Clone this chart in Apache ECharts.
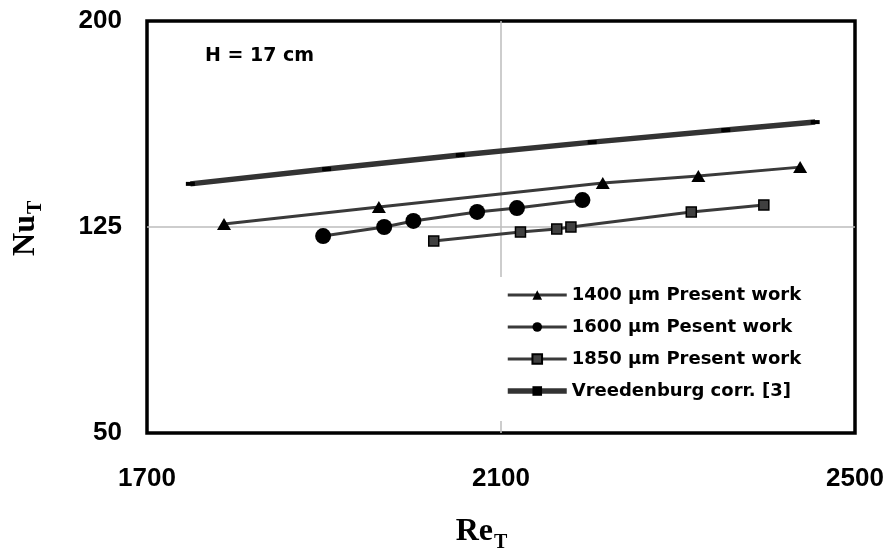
<!DOCTYPE html>
<html><head><meta charset="utf-8">
<script src="https://cdn.jsdelivr.net/npm/echarts@6/dist/echarts.min.js"></script>
<style>html,body{margin:0;padding:0;background:#fff}#c{width:890px;height:554px}</style>
</head><body><div id="c"></div>
<script>
// Data
const seriesNames = ['1400 µm Present work', '1600 µm Pesent work', '1850 µm Present work', 'Vreedenburg corr. [3]'];
const re1400 = [1787, 1962, 2215, 2323, 2438];
const nu1400 = [126.1, 132.3, 141.0, 143.6, 146.8];
const re1600 = [1899, 1968, 2001, 2073, 2118, 2192];
const nu1600 = [121.7, 125.0, 127.2, 130.5, 131.9, 134.8];
const re1850 = [2024, 2122, 2163, 2179, 2315, 2397];
const nu1850 = [119.9, 123.2, 124.3, 125.0, 130.5, 133.0];
const reVree = [1749, 1903, 2054, 2203, 2354, 2455];
const nuVree = [140.7, 146.1, 151.2, 155.9, 160.3, 163.2];
const xTicks = {min: 1700, max: 2500, interval: 400};
const yTicks = {min: 50, max: 200, interval: 75};
const annotation = 'H = 17 cm';

const pairs = (xs, ys) => xs.map((x, i) => [x, ys[i]]);
const chart = echarts.init(document.getElementById('c'), null, {renderer: 'canvas'});
const tickFont = {fontFamily: '"Liberation Sans", Arial, sans-serif', fontWeight: 'bold', fontSize: 26, color: '#000', formatter: v => String(v)};
const lineCol = '#3a3a3a';
const split = {show: true, showMinLine: false, showMaxLine: false, lineStyle: {color: '#bdbdbd', width: 1.5}};
chart.setOption({
  animation: false,
  backgroundColor: '#fff',
  grid: {left: 147, top: 21, right: 35, bottom: 121, show: true, borderColor: '#000', borderWidth: 3.5, backgroundColor: 'transparent'},
  xAxis: {
    type: 'value', min: xTicks.min, max: xTicks.max, interval: xTicks.interval,
    axisLine: {show: false}, axisTick: {show: false},
    axisLabel: Object.assign({margin: 33}, tickFont),
    splitLine: split
  },
  yAxis: {
    type: 'value', min: yTicks.min, max: yTicks.max, interval: yTicks.interval,
    axisLine: {show: false}, axisTick: {show: false},
    axisLabel: Object.assign({margin: 25}, tickFont),
    splitLine: split
  },
  legend: {
    orient: 'vertical', left: 493, top: 277,
    padding: [9, 10, 21, 12], backgroundColor: '#fff',
    itemWidth: 59, itemHeight: 12, itemGap: 14,
    lineStyle: {width: 'inherit'},
    textStyle: {fontFamily: '"DejaVu Sans", sans-serif', fontWeight: 'bold', fontSize: 18, color: '#000'},
    data: seriesNames
  },
  series: [
    {name: seriesNames[0], type: 'line', data: pairs(re1400, nu1400), symbol: 'triangle', symbolSize: [14, 12],
      itemStyle: {color: '#000'}, lineStyle: {color: lineCol, width: 3}, z: 3},
    {name: seriesNames[1], type: 'line', data: pairs(re1600, nu1600), symbol: 'circle', symbolSize: 16,
      itemStyle: {color: '#000'}, lineStyle: {color: lineCol, width: 3}, z: 3},
    {name: seriesNames[2], type: 'line', data: pairs(re1850, nu1850), symbol: 'rect', symbolSize: 10,
      itemStyle: {color: '#404040', borderColor: '#000', borderWidth: 1.5}, lineStyle: {color: lineCol, width: 3}, z: 3},
    {name: seriesNames[3], type: 'line', data: pairs(reVree, nuVree), symbol: 'rect', symbolSize: [9, 4],
      itemStyle: {color: '#000'}, lineStyle: {color: '#333', width: 5.5}, z: 2}
  ],
  graphic: [
    {type: 'text', x: 205, y: 56, style: {text: annotation, font: 'bold 19px "DejaVu Sans", sans-serif', fill: '#000', align: 'left', verticalAlign: 'middle'}},
    {type: 'text', x: 493, y: 532, style: {text: 'Re', font: 'bold 32px "Liberation Serif", serif', fill: '#000', align: 'right', verticalAlign: 'middle'}},
    {type: 'text', x: 494, y: 543, style: {text: 'T', font: 'bold 20px "Liberation Serif", serif', fill: '#000', align: 'left', verticalAlign: 'middle'}},
    {type: 'group', x: 26, y: 228, rotation: Math.PI / 2, children: [
      {type: 'text', x: 13, y: 0, style: {text: 'Nu', font: 'bold 32px "Liberation Serif", serif', fill: '#000', align: 'right', verticalAlign: 'middle'}},
      {type: 'text', x: 14, y: 10, style: {text: 'T', font: 'bold 20px "Liberation Serif", serif', fill: '#000', align: 'left', verticalAlign: 'middle'}}
    ]}
  ]
});
</script></body></html>
